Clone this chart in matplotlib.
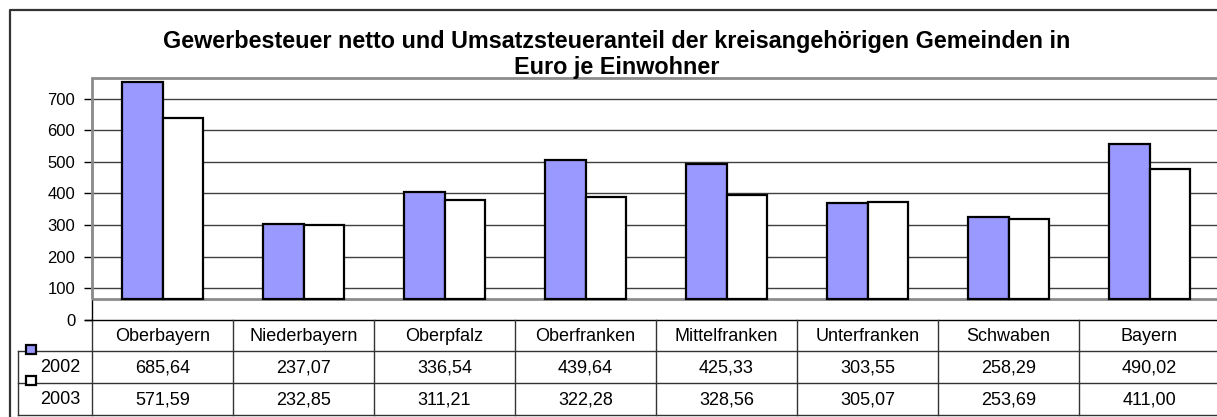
import numpy as np
import matplotlib
matplotlib.use('Agg')
import matplotlib.pyplot as plt
from matplotlib.patches import Rectangle

plt.rcParams['font.family'] = ['Liberation Sans', 'DejaVu Sans']

regions = ['Oberbayern', 'Niederbayern', 'Oberpfalz', 'Oberfranken',
           'Mittelfranken', 'Unterfranken', 'Schwaben', 'Bayern']
years = ['2002', '2003']
v2002 = [685.64, 237.07, 336.54, 439.64, 425.33, 303.55, 258.29, 490.02]
v2003 = [571.59, 232.85, 311.21, 322.28, 328.56, 305.07, 253.69, 411.00]
yticks = [0, 100, 200, 300, 400, 500, 600, 700]

title1 = 'Gewerbesteuer netto und Umsatzsteueranteil der kreisangehörigen Gemeinden in'
title2 = 'Euro je Einwohner'

W, H = 1217, 417
fig = plt.figure(figsize=(W / 100, H / 100), dpi=100)

# overlay in pixel coordinates for frame, title and data table
ov = fig.add_axes([0, 0, 1, 1], zorder=0)
ov.set_xlim(0, W)
ov.set_ylim(H, 0)
ov.axis('off')

# chart outer border (right/bottom outside the picture)
ov.plot([9.5, 9.5, W + 5], [H + 5, 9.5, 9.5], color='#333333', lw=1.6, clip_on=False)

# plot area geometry
x0, colw = 92, 141
y_zero, y_top, ymax = 320, 78, 765
base = 67  # bars start at floor of plot box

ax = fig.add_axes([x0 / W, (H - y_zero) / H, len(regions) * colw / W, (y_zero - y_top) / H],
                  zorder=2)
ax.patch.set_alpha(0)
ax.set_xlim(-0.5, len(regions) - 0.5)
ax.set_ylim(0, ymax)

# gridlines
ax.hlines(yticks[1:], -0.5, len(regions) - 0.5, color='#404040', lw=1, zorder=1)
# plot box
ax.add_patch(Rectangle((-0.5, base), len(regions), ymax - base, fill=False,
                       ec='#8c8c8c', lw=2, zorder=3, clip_on=False))

x = np.arange(len(regions))
bw = 0.29
ax.bar(x - bw, v2002, width=bw, bottom=base, align='edge', color='#9999ff',
       edgecolor='black', lw=1.6, zorder=4)
ax.bar(x, v2003, width=bw, bottom=base, align='edge', color='white',
       edgecolor='black', lw=1.6, zorder=4)

for s in ['top', 'right', 'bottom']:
    ax.spines[s].set_visible(False)
ax.spines['left'].set_bounds(0, 700)
ax.spines['left'].set_linewidth(1)
ax.set_yticks(yticks)
ax.tick_params(axis='y', direction='out', length=5.5, width=1, pad=6.5, labelsize=12)
ax.set_xticks([])

# title
fig.text(617 / W, 1 - 48 / H, title1, ha='center', va='baseline', fontsize=16.8,
         fontweight='bold')
fig.text(617 / W, 1 - 74 / H, title2, ha='center', va='baseline', fontsize=16.8,
         fontweight='bold')

# data table
r0, r1, r2, r3 = 320, 350.5, 383, 415
right = x0 + len(regions) * colw
lc = '#333333'
fs = 13
ov.plot([85, right], [r0, r0], color='black', lw=1)
ov.plot([18, right], [r1, r1], color=lc, lw=1)
ov.plot([18, right], [r2, r2], color=lc, lw=1)
ov.plot([18, right], [r3, r3], color=lc, lw=1)
ov.plot([18, 18], [r1, r3], color=lc, lw=1)
for k in range(len(regions) + 1):
    ov.plot([x0 + k * colw] * 2, [r0, r3], color=lc, lw=1)

for k, name in enumerate(regions):
    cx = x0 + (k + 0.5) * colw
    ov.text(cx, (r0 + r1) / 2 + 1, name, ha='center', va='center', fontsize=fs)
    ov.text(cx, (r1 + r2) / 2 + 1, f'{v2002[k]:.2f}'.replace('.', ','),
            ha='center', va='center', fontsize=fs)
    ov.text(cx, (r2 + r3) / 2 + 1, f'{v2003[k]:.2f}'.replace('.', ','),
            ha='center', va='center', fontsize=fs)

ov.text(80, (r1 + r2) / 2 + 1, years[0], ha='right', va='center', fontsize=fs)
ov.text(80, (r2 + r3) / 2 + 1, years[1], ha='right', va='center', fontsize=fs)
ov.add_patch(Rectangle((26, 345), 10, 9, fc='#9999ff', ec='black', lw=1.6, zorder=5))
ov.add_patch(Rectangle((26, 376), 10, 9, fc='white', ec='black', lw=1.6, zorder=5))

fig.savefig('out.png', dpi=100)
